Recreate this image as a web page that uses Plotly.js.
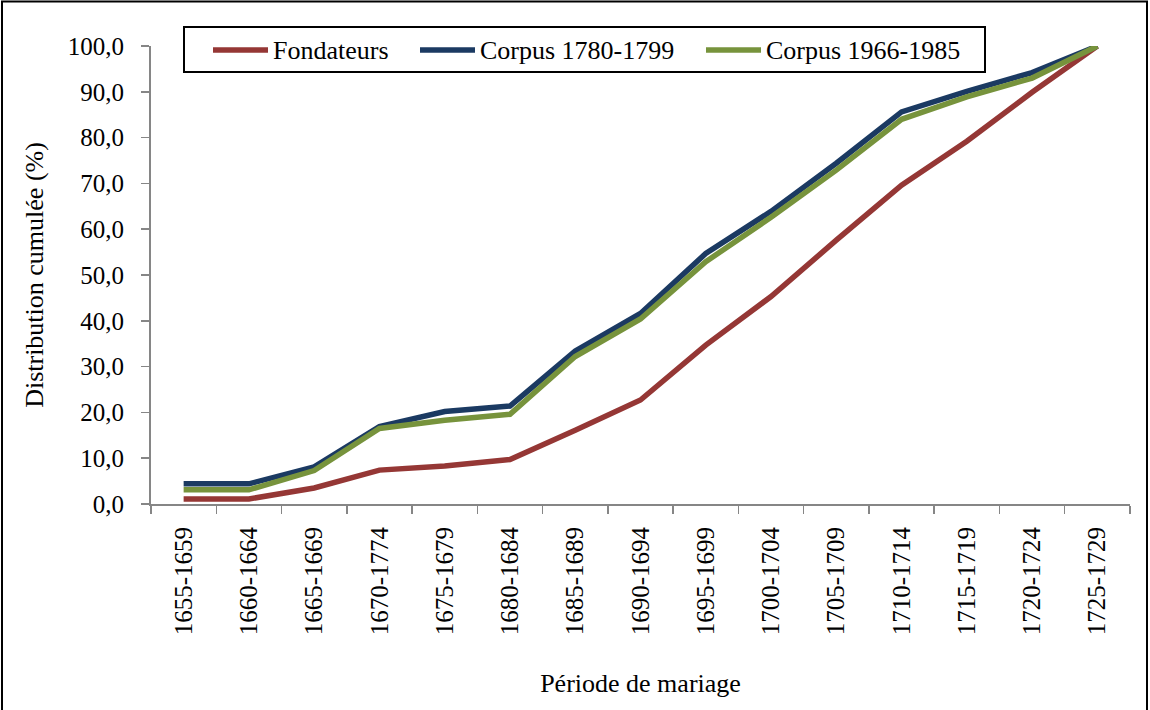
<!DOCTYPE html>
<html>
<head>
<meta charset="utf-8">
<script src="https://cdn.plot.ly/plotly-3.0.1.min.js"></script>
<style>
  html, body { margin: 0; padding: 0; background: #ffffff; }
  #chart { width: 1150px; height: 710px; }
</style>
</head>
<body>
<div id="chart"></div>
<script>
const periods = ["1655-1659","1660-1664","1665-1669","1670-1774","1675-1679","1680-1684","1685-1689","1690-1694","1695-1699","1700-1704","1705-1709","1710-1714","1715-1719","1720-1724","1725-1729"];
const fondateurs = [1.1, 1.1, 3.5, 7.4, 8.3, 9.7, 16.1, 22.7, 34.7, 45.3, 57.6, 69.6, 79.2, 89.9, 100.0];
const corpus1780 = [4.4, 4.4, 8.1, 16.9, 20.2, 21.4, 33.4, 41.6, 54.7, 63.9, 74.4, 85.6, 90.1, 94.2, 100.0];
const corpus1966 = [3.1, 3.1, 7.3, 16.5, 18.3, 19.6, 32.2, 40.4, 52.9, 62.6, 72.9, 84.0, 88.9, 93.0, 100.0];
const seriesNames = ["Fondateurs", "Corpus 1780-1799", "Corpus 1966-1985"];
const yTicks = [0, 10, 20, 30, 40, 50, 60, 70, 80, 90, 100];

const colors = ["#953735", "#1B3A62", "#77933C"];
const serif = "\"Liberation Serif\", \"Times New Roman\", Times, serif";

const W = 1150, H = 710;
const m = {l: 151, r: 20, t: 46, b: 206};
const pw = W - m.l - m.r, ph = H - m.t - m.b;
// pixel -> paper helpers (for decorations only)
const px = v => (v - m.l) / pw;
const py = v => (m.t + ph - v) / ph;

const data = [fondateurs, corpus1780, corpus1966].map((vals, i) => ({
  type: "scatter",
  mode: "lines",
  x: periods,
  y: vals,
  name: seriesNames[i],
  line: {color: colors[i], width: 5.5},
  hoverinfo: "skip",
  showlegend: false
}));

// custom legend (box, line samples, labels)
const legendBox = {x0: 184, x1: 985, y0: 27, y1: 72};
const sampleX = [213, 420, 706];
const sampleLen = 55;
const legendY = 50;

const shapes = [{
  type: "rect", xref: "paper", yref: "paper",
  x0: px(2), x1: px(W - 3), y0: py(H + 10), y1: py(1.5),
  line: {color: "#000000", width: 2},
  fillcolor: "rgba(0,0,0,0)",
  layer: "below"
}, {
  type: "rect", xref: "paper", yref: "paper",
  x0: px(legendBox.x0), x1: px(legendBox.x1), y0: py(legendBox.y1), y1: py(legendBox.y0),
  line: {color: "#000000", width: 2},
  fillcolor: "#ffffff",
  layer: "above"
}];
const annotations = [];
seriesNames.forEach((name, i) => {
  shapes.push({
    type: "line", xref: "paper", yref: "paper",
    x0: px(sampleX[i]), x1: px(sampleX[i] + sampleLen), y0: py(legendY), y1: py(legendY),
    line: {color: colors[i], width: 5.5},
    layer: "above"
  });
  annotations.push({
    xref: "paper", yref: "paper",
    x: px(sampleX[i] + sampleLen + 3), y: py(legendY + 1),
    xanchor: "left", yanchor: "middle",
    text: name, showarrow: false,
    font: {family: serif, size: 26, color: "#000000"}
  });
});

const layout = {
  width: W, height: H,
  margin: m,
  paper_bgcolor: "#ffffff",
  plot_bgcolor: "#ffffff",
  separators: ", ",
  font: {family: serif, color: "#000000", size: 25},
  showlegend: false,
  xaxis: {
    type: "category",
    range: [-0.5, 14.5],
    tickson: "boundaries",
    ticks: "outside",
    ticklen: 8,
    tickwidth: 1.5,
    tickcolor: "#868686",
    showline: true,
    linecolor: "#868686",
    linewidth: 2,
    showgrid: false,
    zeroline: false,
    tickangle: -90,
    ticklabelstandoff: 11,
    tickfont: {family: serif, size: 25, color: "#000000"},
    title: {text: "Période de mariage", font: {family: serif, size: 26, color: "#000000"}, standoff: 39},
    automargin: false
  },
  yaxis: {
    range: [0, 100],
    tickvals: yTicks,
    tickformat: ".1f",
    ticks: "outside",
    ticklen: 8,
    tickwidth: 1.5,
    tickcolor: "#868686",
    showline: true,
    linecolor: "#868686",
    linewidth: 2,
    showgrid: false,
    zeroline: false,
    ticklabelstandoff: 12,
    tickfont: {family: serif, size: 25, color: "#000000"},
    title: {text: "Distribution cumulée (%)", font: {family: serif, size: 26, color: "#000000"}, standoff: 17},
    automargin: false
  },
  shapes: shapes,
  annotations: annotations
};

Plotly.newPlot("chart", data, layout, {staticPlot: true, displayModeBar: false});
</script>
</body>
</html>
